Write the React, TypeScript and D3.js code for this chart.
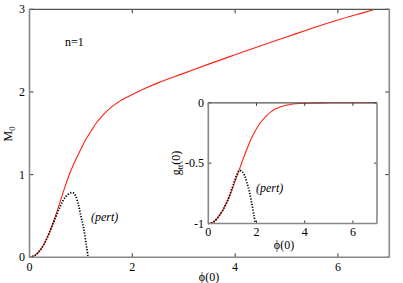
import React from 'react'
import { scaleLinear, line, curveCatmullRom } from 'd3'

// main panel: M0 vs phi(0)
const mainPhi = [0, 0.1, 0.2, 0.3, 0.4, 0.5, 0.6, 0.7, 0.8, 0.9, 1.0, 1.1, 1.2, 1.3, 1.4, 1.5, 1.6, 1.7, 1.8, 2.0, 2.2, 2.5, 3.0, 3.5, 4.0, 4.5, 5.0, 5.5, 6.0, 6.5, 7.0]
const mainM0 = [0, 0.02, 0.08, 0.18, 0.32, 0.49, 0.68, 0.87, 1.04, 1.18, 1.31, 1.43, 1.53, 1.625, 1.70, 1.765, 1.82, 1.865, 1.905, 1.97, 2.03, 2.11, 2.225, 2.34, 2.45, 2.56, 2.665, 2.77, 2.87, 2.96, 3.05]
const mainPertPhi = [0, 0.1, 0.2, 0.3, 0.4, 0.5, 0.6, 0.7, 0.8, 0.85, 0.9, 0.95, 1.0, 1.05, 1.1, 1.14]
const mainPertM0 = [0, 0.02, 0.08, 0.18, 0.32, 0.47, 0.62, 0.73, 0.78, 0.78, 0.74, 0.64, 0.5, 0.36, 0.17, 0]

// inset: g_tt(0) vs phi(0)
const insetPhi = [0, 0.2, 0.4, 0.6, 0.8, 1.0, 1.2, 1.4, 1.6, 1.8, 2.0, 2.2, 2.4, 2.6, 2.8, 3.0, 3.4, 4.0, 5.0, 7.0]
const insetG = [-1, -0.99, -0.95, -0.89, -0.81, -0.71, -0.6, -0.49, -0.385, -0.29, -0.215, -0.155, -0.11, -0.075, -0.05, -0.033, -0.014, -0.004, 0, 0]
const insetPertPhi = [0, 0.2, 0.4, 0.6, 0.8, 1.0, 1.1, 1.2, 1.3, 1.4, 1.5, 1.6, 1.7, 1.8, 1.9, 1.95]
const insetPertG = [-1, -0.99, -0.95, -0.89, -0.81, -0.7, -0.64, -0.59, -0.56, -0.57, -0.6, -0.66, -0.73, -0.83, -0.94, -1]

const mainXTicks = [0, 2, 4, 6]
const mainYTicks = [0, 1, 2, 3]
const insetXTicks = [0, 2, 4, 6]
const insetYTicks = [0, -0.5, -1]
const insetYLabels = ['0', '-0.5', '-1']

const font = "Liberation Serif, Times New Roman, Times, DejaVu Serif, serif"

function Frame({ x, y, left, right, top, bottom, xt, yt, tick }: any) {
  return (
    <g>
      {xt.map((t: number) => (
        <g key={'x' + t}>
          <line x1={x(t)} x2={x(t)} y1={bottom} y2={bottom - tick} stroke="#000" strokeWidth={0.8} />
          <line x1={x(t)} x2={x(t)} y1={top} y2={top + tick} stroke="#000" strokeWidth={0.8} />
        </g>
      ))}
      {yt.map((t: number) => (
        <g key={'y' + t}>
          <line x1={left} x2={left + tick} y1={y(t)} y2={y(t)} stroke="#000" strokeWidth={0.8} />
          <line x1={right} x2={right - tick} y1={y(t)} y2={y(t)} stroke="#000" strokeWidth={0.8} />
        </g>
      ))}
      <line x1={left} x2={right} y1={top} y2={top} stroke="#555" strokeWidth={1.2} />
      <line x1={left} x2={left} y1={top} y2={bottom} stroke="#888" strokeWidth={1.6} />
      <line x1={right} x2={right} y1={top} y2={bottom} stroke="#888" strokeWidth={1.6} />
      <line x1={left} x2={right} y1={bottom} y2={bottom} stroke="#888" strokeWidth={1.6} />
    </g>
  )
}

export default function App() {
  const mx = scaleLinear().domain([0, 7]).range([29.5, 389.3])
  const my = scaleLinear().domain([0, 3]).range([257.3, 9.3])
  const ix = scaleLinear().domain([0, 7]).range([208.3, 377])
  const iy = scaleLinear().domain([-1, 0]).range([223.5, 102.8])

  const mLine = line<number>().x((d, i) => mx(mainPhi[i])).y(d => my(d)).curve(curveCatmullRom)
  const mpLine = line<number>().x((d, i) => mx(mainPertPhi[i])).y(d => my(d)).curve(curveCatmullRom)
  const iLine = line<number>().x((d, i) => ix(insetPhi[i])).y(d => iy(d)).curve(curveCatmullRom)
  const ipLine = line<number>().x((d, i) => ix(insetPertPhi[i])).y(d => iy(d)).curve(curveCatmullRom)

  const txt = { fontFamily: font, fontSize: 12 }

  return (
    <svg width={403} height={283} style={{ position: 'absolute', left: 0, top: 0, background: '#fff' }}>
      <defs>
        <clipPath id="main-clip">
          <rect x={29.5} y={9.3} width={360} height={248} />
        </clipPath>
      </defs>
      <rect width={403} height={283} fill="#fff" />
      <g clipPath="url(#main-clip)">
        <path d={mLine(mainM0) || ''} fill="none" stroke="#f21" strokeWidth={1.1} />
        <path d={mpLine(mainPertM0) || ''} fill="none" stroke="#000" strokeWidth={1.8} strokeDasharray="1.2,1.6" />
      </g>
      <Frame x={mx} y={my} left={29.5} right={389.3} top={9.3} bottom={257.3} xt={mainXTicks} yt={mainYTicks} tick={4} />
      {mainXTicks.map(t => (
        <text key={t} x={mx(t)} y={271} style={txt} textAnchor="middle">{t}</text>
      ))}
      {mainYTicks.map(t => (
        <text key={t} x={25} y={my(t) + 4} style={txt} textAnchor="end">{t}</text>
      ))}
      <text x={209} y={281} style={txt} textAnchor="middle">ϕ(0)</text>
      <text transform="translate(12,134) rotate(-90)" style={txt} textAnchor="middle">
        M<tspan fontSize={8.5} dy={3}>0</tspan>
      </text>
      <text x={65} y={46} style={txt}>n=1</text>
      <text x={91} y={221} style={txt} fontStyle="italic">(pert)</text>

      {/* inset */}
      <rect x={208.3} y={102.8} width={168.7} height={120.7} fill="#fff" />
      <path d={iLine(insetG) || ''} fill="none" stroke="#f21" strokeWidth={1.1} />
      <path d={ipLine(insetPertG) || ''} fill="none" stroke="#000" strokeWidth={1.8} strokeDasharray="1.2,1.6" />
      <Frame x={ix} y={iy} left={208.3} right={377} top={102.8} bottom={223.5} xt={insetXTicks} yt={insetYTicks} tick={3} />
      {insetXTicks.map(t => (
        <text key={t} x={ix(t)} y={236} style={txt} textAnchor="middle">{t}</text>
      ))}
      {insetYTicks.map((t, i) => (
        <text key={t} x={204} y={iy(t) + 4} style={txt} textAnchor="end">{insetYLabels[i]}</text>
      ))}
      <text x={284} y={249} style={txt} textAnchor="middle">ϕ(0)</text>
      <text transform="translate(180,163) rotate(-90)" style={txt} textAnchor="middle">
        g<tspan fontSize={8.5} dy={3}>tt</tspan><tspan dy={-3}>(0)</tspan>
      </text>
      <text x={256} y={192} style={txt} fontStyle="italic">(pert)</text>
    </svg>
  )
}
